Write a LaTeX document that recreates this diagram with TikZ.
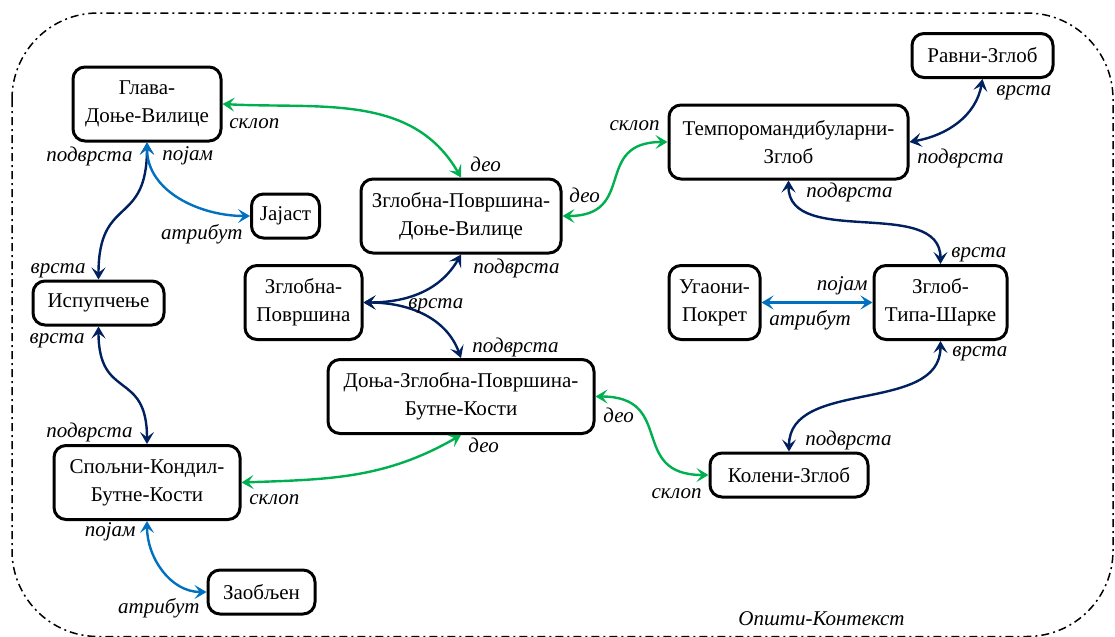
\documentclass[tikz,border=0pt]{standalone}
\usepackage{fontspec}
\setmainfont{Liberation Serif}
\usetikzlibrary{arrows.meta}

\definecolor{navy}{HTML}{002060}
\definecolor{grn}{HTML}{00B050}
\definecolor{blu}{HTML}{0070C0}

\begin{document}
\begin{tikzpicture}[x=0.5pt, y=0.5pt,
    font=\fontsize{10.5}{14}\selectfont,
    box/.style={draw, line width=1.5pt, rounded corners=6pt, align=center, inner sep=0pt},
    one/.style={box, minimum height=22pt},
    two/.style={box, minimum height=37pt},
    lbl/.style={font=\fontsize{10.5}{14}\selectfont\itshape, inner sep=0pt},
    rel/.style={<->, line width=1.2pt, >={Stealth[length=6pt, width=7pt, inset=2.6pt]}},
    isa/.style={rel, navy},
    part/.style={rel, grn},
    attr/.style={rel, blu}]
    \useasboundingbox (0,0) rectangle (1115,-637);

    % context frame
    \draw[line width=0.75pt, dash pattern=on 4pt off 2pt on 1pt off 2pt, rounded corners=43pt]
        (12,-13) rectangle (1113,-636.5);
    \node[lbl, anchor=base west] (ctx) at (738,-625) {Општи-Контекст};

    % concepts
    \node[two, minimum width=74pt] (gdv) at (147,-104) {Глава-\\Доње-Вилице};
    \node[one, minimum width=34pt] (jaj) at (285.5,-216) {Јајаст};
    \node[one, minimum width=65.5pt] (isp) at (98.5,-303) {Испупчење};
    \node[two, minimum width=100pt] (zpdv) at (461,-216) {Зглобна-Површина-\\Доње-Вилице};
    \node[two, minimum width=58.5pt] (zp) at (303.5,-302.5) {Зглобна-\\Површина};
    \node[two, minimum width=133pt] (dzp) at (461,-396.5) {Доња-Зглобна-Површина-\\Бутне-Кости};
    \node[two, minimum width=93pt] (skbk) at (147,-482.5) {Спољни-Кондил-\\Бутне-Кости};
    \node[one, minimum width=53.5pt] (zaob) at (261.5,-592) {Заобљен};
    \node[two, minimum width=119.5pt] (tmz) at (788.5,-142) {Темпоромандибуларни-\\Зглоб};
    \node[one, minimum width=70.5pt] (rz) at (982.5,-55.5) {Равни-Зглоб};
    \node[two, minimum width=45.5pt] (up) at (714.5,-302.5) {Угаони-\\Покрет};
    \node[two, minimum width=66.5pt] (zts) at (940.5,-302.5) {Зглоб-\\Типа-Шарке};
    \node[one, minimum width=79pt] (kz) at (789,-475) {Колени-Зглоб};

    % relations
    \draw[part] (gdv.east) to[out=-3, in=120] (zpdv.north);
    \draw[isa] (gdv.south) to[out=-90, in=90, looseness=1.5] (isp.north);
    \draw[attr] (gdv.south) to[out=-90, in=180] (jaj.west);
    \draw[isa] (isp.south) to[out=-90, in=90, looseness=1.5] (skbk.north);
    \draw[part] (skbk.east) to[out=2, in=-150] (dzp.south);
    \draw[attr] (skbk.south) to[out=-90, in=180] (zaob.west);
    \draw[isa] (zp.east) to[out=0, in=-120] (zpdv.south);
    \draw[isa] (zp.east) to[out=0, in=110] (dzp.north);
    \draw[part] (zpdv.east) to[out=0, in=180, looseness=1.5] (tmz.west);
    \draw[isa] (tmz.east) to[out=10, in=-100] (rz.south);
    \draw[isa] (tmz.south) to[out=-90, in=90] (zts.north);
    \draw[attr] (up.east) -- (zts.west);
    \draw[isa] (zts.south) to[out=-90, in=90] (kz.north);
    \draw[part] (dzp.east) to[out=0, in=180, looseness=1.5] (kz.west);

    % relation labels
    \node[lbl, anchor=base west] (l1a) at (229,-128) {склоп};
    \node[lbl, anchor=base west] (l1b) at (470,-171) {део};
    \node[lbl, anchor=base east] (l2a) at (133,-161) {подврста};
    \node[lbl, anchor=base east] (l2b) at (86,-273) {врста};
    \node[lbl, anchor=base west] (l3a) at (162,-160) {појам};
    \node[lbl, anchor=base east] (l3b) at (243,-239) {атрибут};
    \node[lbl, anchor=base east] (l4a) at (85,-343) {врста};
    \node[lbl, anchor=base east] (l4b) at (133,-437) {подврста};
    \node[lbl, anchor=base west] (l5a) at (249,-504) {склоп};
    \node[lbl, anchor=base west] (l5b) at (468,-452) {део};
    \node[lbl, anchor=base east] (l6a) at (136,-536) {појам};
    \node[lbl, anchor=base east] (l6b) at (200,-613) {атрибут};
    \node[lbl, anchor=base west] (l7a) at (408,-308) {врста};
    \node[lbl, anchor=base west] (l7b) at (473,-273) {подврста};
    \node[lbl, anchor=base west] (l8b) at (472,-352) {подврста};
    \node[lbl, anchor=base west] (l9a) at (569,-202) {део};
    \node[lbl, anchor=base east] (l9b) at (660,-130) {склоп};
    \node[lbl, anchor=base west] (l10a) at (917,-163) {подврста};
    \node[lbl, anchor=base west] (l10b) at (996,-95) {врста};
    \node[lbl, anchor=base west] (l11a) at (806,-197) {подврста};
    \node[lbl, anchor=base west] (l11b) at (951,-257) {врста};
    \node[lbl, anchor=base east] (l12a) at (868,-290) {појам};
    \node[lbl, anchor=base west] (l12b) at (769,-325) {атрибут};
    \node[lbl, anchor=base west] (l13a) at (952,-356) {врста};
    \node[lbl, anchor=base west] (l13b) at (805,-445) {подврста};
    \node[lbl, anchor=base west] (l14a) at (603,-422) {део};
    \node[lbl, anchor=base east] (l14b) at (702,-498) {склоп};
\end{tikzpicture}
\end{document}
